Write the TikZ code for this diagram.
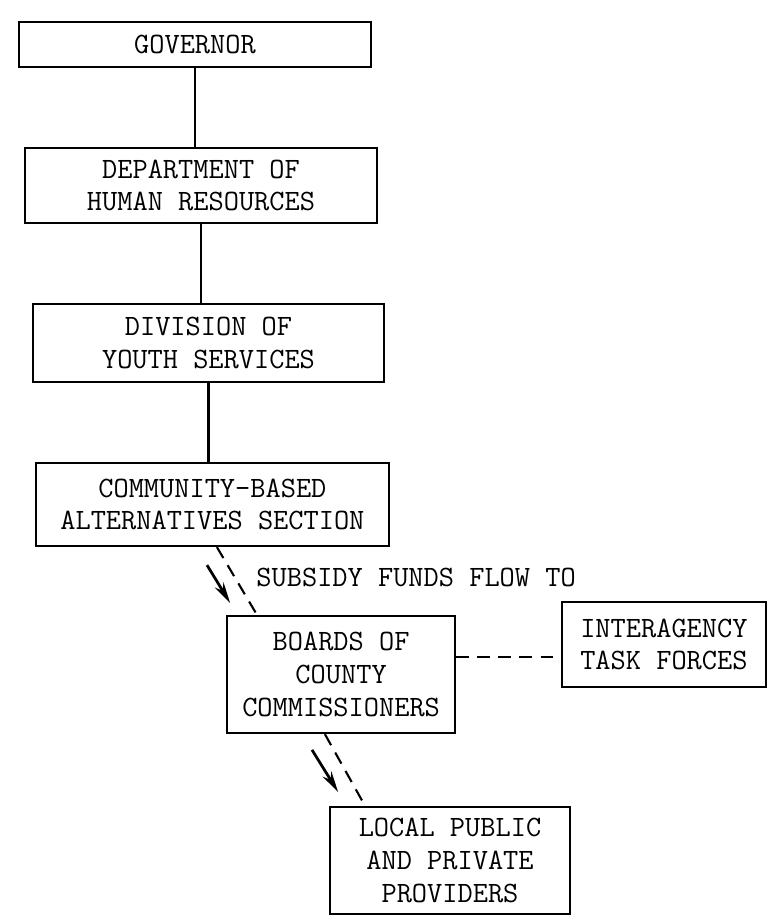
\documentclass[tikz,border=0pt]{standalone}
\usetikzlibrary{arrows.meta}
\begin{document}
\begin{tikzpicture}[
    orgbox/.style={draw, line width=2pt, inner sep=0pt, align=center, font=\fontsize{28}{31}\selectfont\ttfamily},
    flowtext/.style={inner sep=0pt, font=\fontsize{28}{31}\selectfont\ttfamily},
    tie/.style={line width=2pt},
    dashtie/.style={line width=2pt, dash pattern=on 12pt off 8pt},
    push/.style={line width=2.6pt, -{Stealth[length=7mm,width=3.4mm]}}
]
    \useasboundingbox (0,0) rectangle (25.567,30.667);

    \node[orgbox, minimum width=11.73cm, minimum height=1.5cm] (gov) at (6.5,29.18) {GOVERNOR};
    \node[orgbox, minimum width=11.73cm, minimum height=2.5cm] (dhr) at (6.7,24.48) {DEPARTMENT OF\\HUMAN RESOURCES};
    \node[orgbox, minimum width=11.7cm, minimum height=2.6cm] (dys) at (6.95,19.23) {DIVISION OF\\YOUTH SERVICES};
    \node[orgbox, minimum width=11.77cm, minimum height=2.77cm] (cbas) at (7.08,13.85) {COMMUNITY-BASED\\ALTERNATIVES SECTION};
    \node[orgbox, minimum width=7.6cm, minimum height=3.9cm] (boards) at (11.37,8.18) {BOARDS OF\\COUNTY\\COMMISSIONERS};
    \node[orgbox, minimum width=6.8cm, minimum height=2.83cm] (itf) at (22.13,9.18) {INTERAGENCY\\TASK FORCES};
    \node[orgbox, minimum width=8cm, minimum height=3.57cm] (local) at (15,1.98) {LOCAL PUBLIC\\AND PRIVATE\\PROVIDERS};
    \node[flowtext] (subsidy) at (13.87,11.43) {SUBSIDY FUNDS FLOW TO};

    \draw[tie] (gov.south) -- (gov.south |- dhr.north);
    \draw[tie] (dhr.south) -- (dhr.south |- dys.north);
    \draw[tie] (dys.south) -- (dys.south |- cbas.north);

    \draw[dashtie] ([xshift=0.15cm]cbas.south) -- ([xshift=-2.8cm]boards.north);
    \coordinate (a1) at (6.9,11.83);
    \coordinate (a2) at (7.67,10.57);
    \draw[push] (a1) -- (a2);

    \coordinate (side) at ([yshift=0.58cm]boards.east);
    \draw[dashtie] (side) -- (side -| itf.west);

    \draw[dashtie] ([xshift=-0.54cm]boards.south) -- ([xshift=-2.83cm]local.north);
    \coordinate (b1) at (10.4,5.67);
    \coordinate (b2) at (11.27,4.27);
    \draw[push] (b1) -- (b2);
\end{tikzpicture}
\end{document}
